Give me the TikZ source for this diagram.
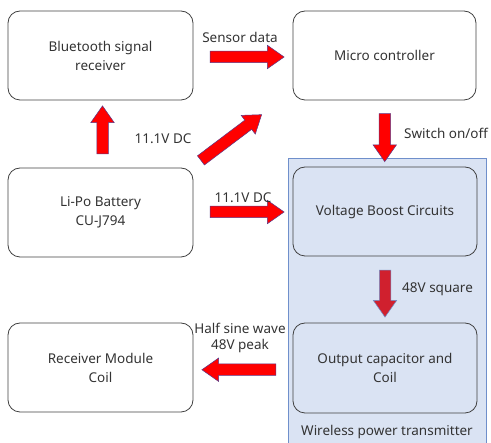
\documentclass[tikz,border=0pt]{standalone}
\usepackage{fontspec}
\setmainfont{Noto Sans}
\usetikzlibrary{shapes.arrows,calc}
\definecolor{txt}{HTML}{333333}
\definecolor{edge}{HTML}{404040}
\definecolor{panel}{HTML}{DAE3F3}
\definecolor{panelEdge}{HTML}{6F8FCB}
\definecolor{arrowRed}{HTML}{FF0000}
\definecolor{arrowDark}{HTML}{D0202E}
\definecolor{arrowEdge}{HTML}{5A3A8A}
\tikzset{
  blockbox/.style={draw=edge, line width=0.8pt, rounded corners=12pt, minimum width=185pt, minimum height=89pt, align=center, text=txt, font=\fontsize{13.5}{19}\selectfont, inner sep=0pt},
  innerbox/.style={blockbox, fill=panel},
  barrow/.style={single arrow, draw=arrowEdge, line width=0.5pt, fill=arrowRed, inner xsep=0pt, inner ysep=5.5pt, single arrow head extend=6pt, single arrow tip angle=70, anchor=center},
  lbl/.style={text=txt, font=\fontsize{13.5}{16}\selectfont, inner sep=0pt, align=center}
}
\begin{document}
\begin{tikzpicture}[x=1pt,y=-1pt]
\useasboundingbox (0,0) rectangle (491,443);
% panel
\fill[panel] (288,158) rectangle (486,444);
\draw[panelEdge, line width=0.8pt] (288,445) -- (288,158) -- (486,158) -- (486,445);
\node[lbl] (wpt) at (387,432) {Wireless power transmitter};
% boxes
\node[blockbox] (bt) at (100.5,55.5) {Bluetooth signal\\receiver};
\node[blockbox, minimum width=183pt] (mc) at (384.5,55.5) {Micro controller};
\node[blockbox] (bat) at (100.5,212.5) {Li-Po Battery\\CU-J794};
\node[innerbox, minimum width=184pt] (vb) at (385,211.5) {Voltage Boost Circuits};
\node[innerbox, minimum width=184pt, minimum height=90pt] (oc) at (385,368) {Output capacitor and\\Coil};
\node[blockbox] (rx) at (100.5,367.5) {Receiver Module\\Coil};
% arrows
\node[barrow, minimum height=74pt] (a1) at ($(bt.east)!0.5!(mc.west)+(0,1.5)$) {};
\node[barrow, minimum height=48pt, rotate=90] (a2) at ($(bat.north)!0.5!(bt.south)+(2,0)$) {};
\node[barrow, minimum height=76pt, rotate=37] (a3) at (228,140) {};
\node[barrow, minimum height=48pt, rotate=-90] (a4) at ($(mc.south)!0.5!(vb.north)$) {};
\node[barrow, minimum height=74pt] (a5) at ($(bat.east)!0.5!(vb.west)$) {};
\node[barrow, minimum height=47pt, rotate=-90, fill=arrowDark, draw=panelEdge] (a6) at ($(vb.south)!0.5!(oc.north)$) {};
\node[barrow, minimum height=74pt, rotate=180] (a7) at ($(oc.west)!0.5!(rx.east)+(0,2)$) {};
% labels
\node[lbl] (l1) at (240,37) {Sensor data};
\node[lbl] (l2) at (163,139) {11.1V DC};
\node[lbl, anchor=west] (l3) at (404,133) {Switch on/off};
\node[lbl] (l4) at (243,198) {11.1V DC};
\node[lbl, anchor=west] (l5) at (402,289) {48V square};
\node[lbl] (l6) at (240,338) {Half sine wave\\48V peak};
\end{tikzpicture}
\end{document}
